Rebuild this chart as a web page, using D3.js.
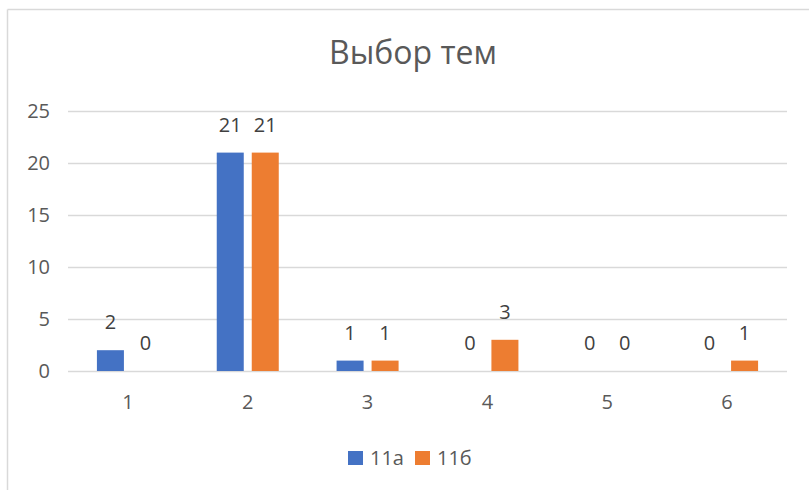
<!DOCTYPE html>
<html><head><meta charset="utf-8">
<script src="https://cdn.jsdelivr.net/npm/d3@7/dist/d3.min.js"></script>
<style>body{margin:0;background:#fff;}svg{display:block;font-family:"Open Sans",Calibri,sans-serif;}</style>
</head><body>
<script>
const categories = ["1","2","3","4","5","6"];
const seriesNames = ["11а","11б"];
const values11a = [2,21,1,0,0,0];
const values11b = [0,21,1,3,0,1];
const yTicks = [0,5,10,15,20,25];
const colors = ["#4472C4","#ED7D31"];
const title = "Выбор тем";

const W=809,H=490;
const svg=d3.select("body").append("svg").attr("width",W).attr("height",H);
// frame
svg.append("line").attr("x1",7.5).attr("x2",W).attr("y1",9.5).attr("y2",9.5).attr("stroke","#D9D9D9").attr("stroke-width",1.5);
svg.append("line").attr("x1",7.5).attr("x2",7.5).attr("y1",9.5).attr("y2",H).attr("stroke","#D9D9D9").attr("stroke-width",1.5);

svg.append("text").attr("x",413).attr("y",64).attr("text-anchor","middle")
  .attr("font-size",32).attr("fill","#595959").text(title);

const x=d3.scaleBand().domain(categories).range([68,787]);
const y=d3.scaleLinear().domain([0,25]).range([371,111]);
const x1=d3.scaleBand().domain(seriesNames).range([0,x.bandwidth()]).paddingInner(0.2286).paddingOuter(0.826);

const g=svg.append("g");
g.selectAll("line.grid").data(yTicks).join("line").attr("class","grid")
  .attr("x1",68).attr("x2",787).attr("y1",d=>Math.round(y(d))+0.5).attr("y2",d=>Math.round(y(d))+0.5)
  .attr("stroke","#D9D9D9").attr("stroke-width",1.3);

const yAxis=d3.axisLeft(y).tickValues(yTicks).tickSize(0).tickPadding(0);
const ya=svg.append("g").attr("transform","translate(50,0)").call(yAxis);
ya.select(".domain").remove();
ya.selectAll("text").attr("font-size",20).attr("fill","#595959").attr("font-family","'Open Sans',sans-serif");

const xAxis=d3.axisBottom(x).tickSize(0).tickPadding(0);
const xa=svg.append("g").attr("transform","translate(0,395)").call(xAxis);
xa.select(".domain").remove();
xa.selectAll("text").attr("font-size",20).attr("fill","#595959").attr("font-family","'Open Sans',sans-serif");

const data=categories.map((c,i)=>({cat:c,vals:[{s:seriesNames[0],v:values11a[i],c:colors[0]},{s:seriesNames[1],v:values11b[i],c:colors[1]}]}));
const cg=g.selectAll("g.cat").data(data).join("g").attr("transform",d=>`translate(${x(d.cat)},0)`);
cg.selectAll("rect").data(d=>d.vals).join("rect")
  .attr("x",d=>x1(d.s)).attr("width",x1.bandwidth())
  .attr("y",d=>y(d.v)).attr("height",d=>y(0)-y(d.v)).attr("fill",d=>d.c);
cg.selectAll("text").data(d=>d.vals).join("text")
  .attr("x",d=>x1(d.s)+x1.bandwidth()/2).attr("y",d=>y(d.v)-21)
  .attr("text-anchor","middle").attr("font-size",20).attr("fill","#404040").text(d=>d.v);

// legend
const lg=svg.append("g");
const legX=[348,415];
seriesNames.forEach((s,i)=>{
  lg.append("rect").attr("x",legX[i]).attr("y",451).attr("width",15).attr("height",14).attr("fill",colors[i]);
  lg.append("text").attr("x",legX[i]+22).attr("y",465).attr("font-size",20).attr("fill","#595959").text(s);
});
</script>
</body></html>
